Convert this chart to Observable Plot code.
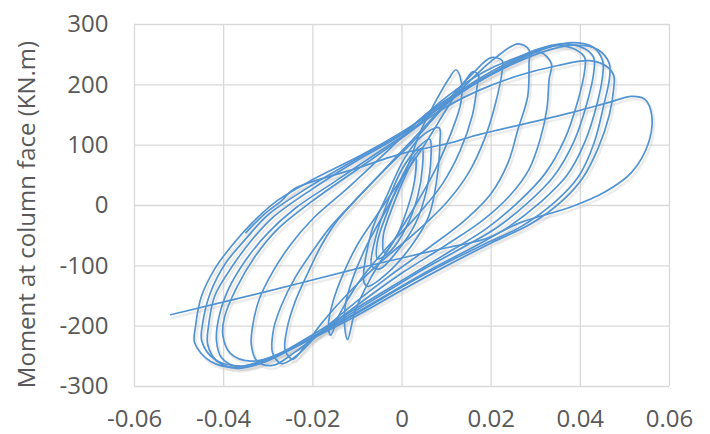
<!DOCTYPE html>
<html>
<head>
<meta charset="utf-8">
<script src="https://cdn.jsdelivr.net/npm/d3@7"></script>
<script src="https://cdn.jsdelivr.net/npm/@observablehq/plot@0.6"></script>
<style>
  html, body { margin: 0; padding: 0; background: #ffffff; }
  #chart { width: 710px; height: 434px; }
</style>
</head>
<body>
<div id="chart"></div>
<script>
// Axis ticks
const xTicks = [-0.06, -0.04, -0.02, 0, 0.02, 0.04, 0.06];
const yTicks = [-300, -200, -100, 0, 100, 200, 300];

// Hysteresis loops: [rotation (rad), moment (kN.m)]
const loopA = [[0.0465,209],[0.0454,171],[0.0431,104],[0.0396,48],[0.0342,5],[0.0267,-35],[0.0193,-61],[0.01,-95],[0,-135],[-0.01,-178],[-0.02,-218],[-0.029,-250],[-0.037,-268],[-0.043,-258],[-0.0465,-228],[-0.0463,-200],[-0.045,-151],[-0.042,-105],[-0.038,-65],[-0.0335,-28],[-0.028,8],[-0.02,43],[-0.009,84],[0,122],[0.008,160],[0.016,200],[0.025,235],[0.033,258],[0.039,266],[0.044,258],[0.0465,235]];
const loopB = [[0.045,215],[0.0438,170],[0.041,105],[0.037,50],[0.031,5],[0.024,-35],[0.017,-65],[0.008,-100],[-0.002,-142],[-0.012,-185],[-0.022,-225],[-0.03,-255],[-0.036,-266],[-0.042,-255],[-0.0449,-225],[-0.0447,-195],[-0.043,-145],[-0.0395,-95],[-0.035,-55],[-0.03,-15],[-0.021,30],[-0.01,78],[0,120],[0.007,158],[0.015,198],[0.024,233],[0.032,260],[0.038,270],[0.043,262],[0.045,240]];
const loopC = [[0.043,220],[0.0415,170],[0.0385,105],[0.034,48],[0.028,3],[0.021,-38],[0.014,-68],[0.005,-105],[-0.005,-150],[-0.015,-195],[-0.024,-235],[-0.031,-260],[-0.037,-270],[-0.0415,-258],[-0.0436,-230],[-0.0434,-200],[-0.042,-150],[-0.038,-100],[-0.034,-60],[-0.029,-20],[-0.02,28],[-0.01,75],[0,118],[0.006,155],[0.014,195],[0.022,230],[0.03,258],[0.036,268],[0.041,260],[0.043,245]];
const loopD = [[0.041,225],[0.0395,175],[0.0365,110],[0.032,52],[0.026,5],[0.019,-38],[0.011,-75],[0.002,-115],[-0.008,-160],[-0.018,-205],[-0.026,-240],[-0.032,-262],[-0.037,-267],[-0.0405,-252],[-0.0416,-225],[-0.0412,-190],[-0.039,-140],[-0.035,-90],[-0.03,-45],[-0.024,-5],[-0.015,40],[-0.006,85],[0.002,125],[0.008,160],[0.016,200],[0.024,235],[0.03,256],[0.035,265],[0.039,258],[0.041,245]];
const loopE = [[0.0475,195],[0.0465,150],[0.044,95],[0.0405,45],[0.036,8],[0.029,-30],[0.02,-62],[0.01,-100],[0,-140],[-0.01,-182],[-0.02,-220],[-0.028,-248],[-0.034,-258],[-0.0385,-245],[-0.0402,-215],[-0.0398,-185],[-0.037,-135],[-0.033,-85],[-0.028,-40],[-0.02,8],[-0.01,60],[0,112],[0.008,155],[0.017,190],[0.026,215],[0.035,232],[0.042,240],[0.046,230],[0.0475,215]];
const loopF = [[0.033,209],[0.0325,160],[0.031,110],[0.0285,60],[0.024,15],[0.018,-25],[0.01,-65],[0,-112],[-0.01,-165],[-0.018,-210],[-0.024,-243],[-0.029,-265],[-0.0325,-258],[-0.0338,-230],[-0.0335,-200],[-0.032,-155],[-0.029,-110],[-0.025,-65],[-0.02,-22],[-0.012,30],[-0.004,85],[0.003,135],[0.01,180],[0.018,220],[0.025,243],[0.031,254],[0.0335,235]];
const loopG = [[0.0285,237],[0.0282,181],[0.026,126],[0.0238,71],[0.02,20],[0.014,-25],[0.006,-70],[-0.003,-118],[-0.012,-170],[-0.019,-215],[-0.0235,-248],[-0.027,-262],[-0.029,-245],[-0.0288,-205],[-0.027,-165],[-0.024,-120],[-0.02,-75],[-0.016,-35],[-0.011,5],[-0.004,58],[0.003,110],[0.009,160],[0.015,205],[0.021,245],[0.026,268],[0.0285,258]];
const loopH = [[0.0225,225],[0.021,170],[0.0185,110],[0.015,55],[0.01,5],[0.003,-45],[-0.005,-95],[-0.012,-145],[-0.018,-195],[-0.022,-235],[-0.0245,-255],[-0.0262,-240],[-0.0258,-205],[-0.024,-160],[-0.021,-110],[-0.018,-65],[-0.0145,-25],[-0.009,20],[-0.002,75],[0.005,130],[0.011,180],[0.016,220],[0.02,245],[0.0225,240]];
const loopI = [[0.017,205],[0.0158,150],[0.013,90],[0.009,35],[0.003,-20],[-0.004,-75],[-0.01,-130],[-0.014,-180],[-0.016,-215],[-0.0165,-200],[-0.0155,-160],[-0.013,-110],[-0.01,-65],[-0.006,-20],[-0.001,35],[0.005,100],[0.01,160],[0.014,205],[0.016,222],[0.0172,215]];
const loopS = [[0.0121,225],[0.0133,205],[0.0132,170],[0.011,120],[0.0075,60],[0.003,0],[-0.002,-60],[-0.007,-120],[-0.0105,-175],[-0.0122,-222],[-0.0128,-205],[-0.0127,-165],[-0.011,-120],[-0.0075,-60],[-0.003,0],[0.001,60],[0.004,120],[0.007,165],[0.0105,210]];
const loopJ = [[0.0083,129],[0.0085,104],[0.0077,38],[0.006,-18],[0.002,-68],[-0.0031,-111],[-0.0076,-134],[-0.0085,-128],[-0.0069,-45],[-0.0031,21],[0.0004,76],[0.0043,114]];
const loopK = [[0.0062,110],[0.0065,80],[0.0055,25],[0.003,-30],[-0.001,-75],[-0.005,-105],[-0.0068,-100],[-0.0058,-50],[-0.003,10],[0,60],[0.0035,95]];
const loopL = [[0.0045,95],[0.0046,65],[0.0035,15],[0.001,-35],[-0.0025,-75],[-0.0055,-88],[-0.0055,-60],[-0.0035,-15],[-0.0008,35],[0.002,75]];
const loopM = [[0.003,80],[0.0028,40],[0.001,-10],[-0.0015,-55],[-0.004,-78],[-0.0042,-50],[-0.002,0],[0.0005,45]];
// Last excursion (open path): large positive loop then unloading to the end point
const finalPath = [[-0.035,-45],[-0.031,-15],[-0.027,8],[-0.0243,27],[-0.01,62],[0,86],[0.011,104],[0.0155,114],[0.038,154],[0.046,170],[0.0515,181],[0.0545,176],[0.056,150],[0.0553,104],[0.0515,55],[0.0454,22],[0.038,-2],[0.0267,-28],[0.0184,-56],[0.01,-70],[0,-87],[-0.0092,-103],[-0.03,-142],[-0.0519,-181]];

const loopList = [loopA, loopB, loopC, loopD, loopE, loopF, loopG, loopH, loopI, loopS, loopJ, loopK, loopL, loopM];
const loopRows = loopList.flatMap((pts, i) => pts.map(([x, m]) => ({x, m, loop: i})));
const finalRows = finalPath.map(([x, m]) => ({x, m}));

const blue = "#5294d3";
const shadow = "#c8c8c8";
const gridColor = "#d9d9d9";
const textColor = "#595959";

const chart = Plot.plot({
  width: 710,
  height: 434,
  marginLeft: 134,
  marginRight: 41,
  marginTop: 24,
  marginBottom: 48,
  style: {fontFamily: "'Open Sans', sans-serif", fontSize: "24px", color: textColor, background: "#ffffff"},
  x: {domain: [-0.06, 0.06]},
  y: {domain: [-300, 300]},
  marks: [
    Plot.gridX(xTicks, {stroke: gridColor, strokeOpacity: 1, strokeWidth: 1.3}),
    Plot.gridY(yTicks, {stroke: gridColor, strokeOpacity: 1, strokeWidth: 1.3}),
    Plot.axisX(xTicks, {tickSize: 0, tickPadding: 23, fontSize: 24, fill: textColor, label: null,
      tickFormat: d => d === 0 ? "0" : d.toFixed(2)}),
    Plot.axisY(yTicks, {tickSize: 0, tickPadding: 26, fontSize: 24, fill: textColor, label: null,
      tickFormat: d => String(d)}),
    // soft drop shadow as in the original spreadsheet chart
    Plot.line(loopRows, {x: "x", y: "m", z: "loop", curve: "catmull-rom-closed", stroke: shadow, strokeOpacity: 0.35, strokeWidth: 2.5, dx: 2, dy: 3}),
    Plot.line(finalRows, {x: "x", y: "m", curve: "catmull-rom", stroke: shadow, strokeOpacity: 0.35, strokeWidth: 2.5, dx: 2, dy: 3}),
    Plot.line(loopRows, {x: "x", y: "m", z: "loop", curve: "catmull-rom-closed", stroke: blue, strokeWidth: 1.7}),
    Plot.line(finalRows, {x: "x", y: "m", curve: "catmull-rom", stroke: blue, strokeWidth: 1.7}),
    Plot.text(["Moment at column face (KN.m)"], {frameAnchor: "left", textAnchor: "middle", rotate: -90, dx: -107, dy: 9,
      fontSize: 24, fill: textColor})
  ]
});
document.getElementById("chart").appendChild(chart);
</script>
</body>
</html>
